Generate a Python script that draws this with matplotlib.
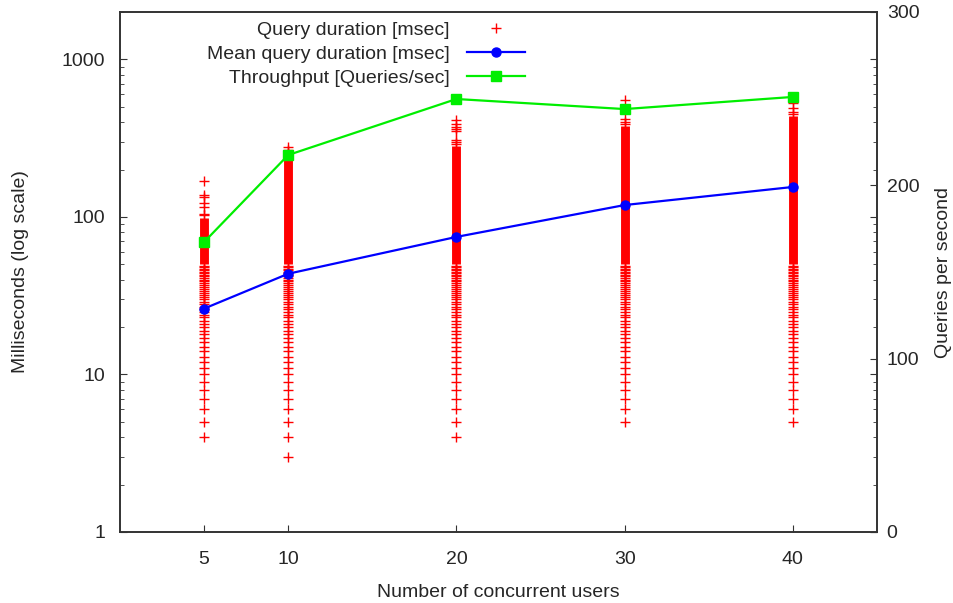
#query latency vs concurrent users
#scatter of single query durations, mean line on log axis, throughput on right axis

import matplotlib.pyplot as plt
from matplotlib.ticker import NullFormatter, LogLocator

plt.rcParams['font.family'] = ['Liberation Sans', 'DejaVu Sans']
plt.rcParams['font.size'] = 14

#data
users = [5, 10, 20, 30, 40]
mean_ms = [26.2, 43.6, 74.7, 119, 155]
throughput = [167.3, 217.5, 249.8, 244, 251]

#single query durations [msec], sparse low end (every integer shows up)
low_5 = [4, 5, 6, 7, 8, 9, 10, 11, 12, 13, 14, 15, 16, 17, 18, 19, 20, 21, 22, 23, 24, 25, 26,
         27, 28, 29, 30, 31, 32, 33, 34, 35, 36, 37, 38, 39, 40, 41, 42, 43, 44, 45, 46, 47, 48, 49]
low_10 = [3, 4, 5, 6, 7, 8, 9, 10, 11, 12, 13, 14, 15, 16, 17, 18, 19, 20, 21, 22, 23, 24, 25, 26,
          27, 28, 29, 30, 31, 32, 33, 34, 35, 36, 37, 38, 39, 40, 41, 42, 43, 44, 45, 46, 47, 48, 49]
low_20 = [4, 5, 6, 7, 8, 9, 10, 11, 12, 13, 14, 15, 16, 17, 18, 19, 20, 21, 22, 23, 24, 25, 26,
          27, 28, 29, 30, 31, 32, 33, 34, 35, 36, 37, 38, 39, 40, 41, 42, 43, 44, 45, 46, 47, 48, 49]
low_30 = [5, 6, 7, 8, 9, 10, 11, 12, 13, 14, 15, 16, 17, 18, 19, 20, 21, 22, 23, 24, 25, 26,
          27, 28, 29, 30, 31, 32, 33, 34, 35, 36, 37, 38, 39, 40, 41, 42, 43, 44, 45, 46, 47, 48, 49]
low_40 = [5, 6, 7, 8, 9, 10, 11, 12, 13, 14, 15, 16, 17, 18, 19, 20, 21, 22, 23, 24, 25, 26,
          27, 28, 29, 30, 31, 32, 33, 34, 35, 36, 37, 38, 39, 40, 41, 42, 43, 44, 45, 46, 47, 48, 49]

#dense part where the + marks merge into a solid bar
band_lo = [50, 50, 50, 50, 50]
band_hi = [99, 245, 281, 377, 435]

#slow outliers above the dense part
high_5 = [103, 105, 115, 123, 133, 138, 169]
high_10 = [255, 268, 280]
high_20 = [290, 298, 306, 350, 360, 375, 388, 410]
high_30 = [388, 400, 417, 550]
high_40 = [450, 465, 490, 530]

low_all = [low_5, low_10, low_20, low_30, low_40]
high_all = [high_5, high_10, high_20, high_30, high_40]

#setting up plot
fig = plt.figure(figsize=(9.54, 6.03), dpi=100)
ax = fig.add_axes([120/954, 71/603, 757/954, 520/603])
ax2 = ax.twinx()

txt = '#262626'
edge = '#333333'

#scatter of query durations
for i, u in enumerate(users):
    vals = low_all[i] + high_all[i]
    h, = ax.plot([u]*len(vals), vals, '+', color='red', ms=6.6, mew=1.0,
                 zorder=2, label='Query duration [msec]' if i == 0 else None)
    if i == 0:
        h_scatter = h
ax.vlines(users, band_lo, band_hi, color='red', lw=6.4, zorder=2)

h_mean, = ax.plot(users, mean_ms, '-o', color='#0000ff', lw=1.6, ms=6.5,
                  zorder=3, label='Mean query duration [msec]')
h_tp, = ax2.plot(users, throughput, '-s', color='#00ee00', lw=1.6, ms=7,
                 zorder=3, label='Throughput [Queries/sec]')

# plot style
ax.set_yscale('log')
ax.set_ylim(1, 2000)
ax.set_xlim(0, 45)
ax.set_xticks(users)
ax.set_xticklabels([str(u) for u in users])
ax.set_yticks([1, 10, 100, 1000])
ax.set_yticklabels(['1', '10', '100', '1000'])
ax.yaxis.set_minor_locator(LogLocator(base=10, subs=range(2, 10)))
ax.yaxis.set_minor_formatter(NullFormatter())

ax2.set_ylim(0, 300)
ax2.set_yticks([0, 100, 200, 300])

ax.tick_params(axis='y', which='both', direction='in', right=True, colors=edge,
               labelcolor=txt, pad=10.5)
ax.tick_params(axis='y', which='major', length=5)
ax.tick_params(axis='y', which='minor', length=3)
ax.tick_params(axis='x', direction='in', length=5, colors=edge, labelcolor=txt, pad=13.5)
ax2.tick_params(axis='y', direction='in', length=5, colors=edge, labelcolor=txt, pad=7)

for a in (ax, ax2):
    for s in a.spines.values():
        s.set_color(edge)
        s.set_linewidth(1.2)

ax.set_xlabel('Number of concurrent users', color=txt, labelpad=12)
ax.set_ylabel('Milliseconds (log scale)', color=txt, labelpad=24)
ax2.set_ylabel('Queries per second', color=txt, labelpad=11)

leg = ax2.legend([h_scatter, h_mean, h_tp],
                 [h_scatter.get_label(), h_mean.get_label(), h_tp.get_label()],
                 loc='upper right', bbox_to_anchor=(539/954, 1 - 8/603),
                 bbox_transform=fig.transFigure, frameon=False, markerfirst=False,
                 numpoints=1, handlelength=3.0, handletextpad=0.9,
                 labelspacing=0.32, borderpad=0.2)
for t in leg.get_texts():
    t.set_color(txt)

plt.savefig('out.png', dpi=100)
